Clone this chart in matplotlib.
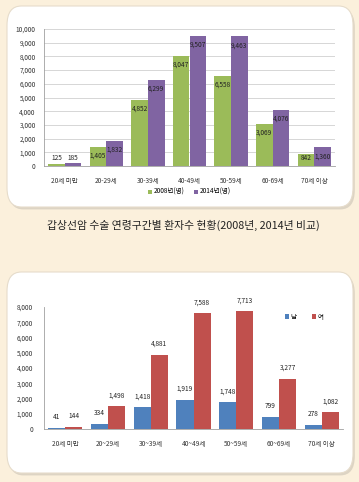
import numpy as np
import matplotlib
matplotlib.use('Agg')
import matplotlib.pyplot as plt
from matplotlib.patches import FancyBboxPatch

plt.rcParams['font.family'] = ['Noto Sans CJK KR', 'DejaVu Sans']

# 데이터
ages = ['20세 미만', '20-29세', '30-39세', '40-49세', '50-59세', '60-69세', '70세 이상']
y2008 = [125, 1405, 4852, 8047, 6558, 3069, 842]
y2014 = [185, 1832, 6299, 9507, 9463, 4076, 1360]
ages2 = ['20세 미만', '20~29세', '30~39세', '40~49세', '50~59세', '60~69세', '70세 이상']
male = [41, 334, 1418, 1919, 1748, 799, 278]
female = [144, 1498, 4881, 7588, 7713, 3277, 1082]
caption = '갑상선암 수술 연령구간별 환자수 현황(2008년, 2014년 비교)'

W, H = 359, 482
fig = plt.figure(figsize=(W / 100, H / 100), dpi=100)
fig.patch.set_facecolor('#fbf0dc')

def px_axes(x0, y0, x1, y1):
    # pixel box (top-left origin) -> figure axes
    return fig.add_axes([x0 / W, 1 - y1 / H, (x1 - x0) / W, (y1 - y0) / H])

def card(x0, y0, x1, y1):
    sh = FancyBboxPatch((x0 / W + 0.005, 1 - y1 / H - 0.005), (x1 - x0) / W, (y1 - y0) / H,
                        boxstyle='round,pad=0,rounding_size=0.04', transform=fig.transFigure,
                        facecolor='#ddd4c4', edgecolor='none', zorder=0)
    bx = FancyBboxPatch((x0 / W, 1 - y1 / H), (x1 - x0) / W, (y1 - y0) / H,
                        boxstyle='round,pad=0,rounding_size=0.04', transform=fig.transFigure,
                        facecolor='white', edgecolor='#e6dccb', linewidth=0.8, zorder=1)
    fig.patches.extend([sh, bx])

card(7, 6, 353, 207)
card(7, 272, 353, 473)

fs = 4.7
x = np.arange(len(ages))
w = 0.4

# 위 차트
ax1 = px_axes(44, 29, 335, 166)
ax1.set_zorder(3)
b1 = ax1.bar(x - w / 2, y2008, w, color='#9bbb59', label='2008년(명)', zorder=2)
b2 = ax1.bar(x + w / 2, y2014, w, color='#8064a2', label='2014년(명)', zorder=2)
for bars, vals in [(b1, y2008), (b2, y2014)]:
    for r, v in zip(bars, vals):
        ax1.text(r.get_x() + r.get_width() / 2, max(v - 650, 600), f'{v:,}',
                 ha='center', va='center', fontsize=fs, color='#222222', zorder=4)
ax1.set_xlim(-0.5, len(ages) - 0.5)
ax1.set_ylim(0, 10000)
ax1.set_yticks(range(0, 10001, 1000))
ax1.set_yticklabels([f'{v:,}' for v in range(0, 10001, 1000)])
ax1.set_xticks(x)
ax1.set_xticklabels(ages)
ax1.yaxis.grid(True, color='#d0d0d0', linewidth=0.6, zorder=0)
ax1.set_axisbelow(True)
ax1.set_facecolor('none')
for s in ['top', 'right']:
    ax1.spines[s].set_visible(False)
for s in ['left', 'bottom']:
    ax1.spines[s].set_color('#a0a0a0')
    ax1.spines[s].set_linewidth(0.6)
ax1.tick_params(axis='both', length=0, labelsize=fs, colors='#333333', pad=6)
ax1.tick_params(axis='x', pad=8)
ax1.legend(loc='center', bbox_to_anchor=(0.5, -0.19), ncol=2, frameon=False,
           fontsize=fs, handlelength=0.6, handleheight=0.6, columnspacing=1.5,
           handletextpad=0.3)

fig.text(183 / W, 1 - 225 / H, caption, ha='center', va='center', fontsize=7.8,
         color='#222222')

# 아래 차트
ax2 = px_axes(44, 307, 343, 429)
ax2.set_zorder(3)
c1 = ax2.bar(x - w / 2, male, w, color='#4f81bd', label='남', zorder=2)
c2 = ax2.bar(x + w / 2, female, w, color='#c0504d', label='여', zorder=2)
for bars, vals in [(c1, male), (c2, female)]:
    for r, v in zip(bars, vals):
        ax2.annotate(f'{v:,}', (r.get_x() + r.get_width() / 2, v), xytext=(0, 5),
                     textcoords='offset points', ha='center', va='bottom',
                     fontsize=fs, color='#222222')
ax2.set_xlim(-0.5, len(ages2) - 0.5)
ax2.set_ylim(0, 8000)
ax2.set_yticks(range(0, 8001, 1000))
ax2.set_yticklabels([f'{v:,}' for v in range(0, 8001, 1000)])
ax2.set_xticks(x)
ax2.set_xticklabels(ages2)
ax2.set_facecolor('none')
for s in ['top', 'right']:
    ax2.spines[s].set_visible(False)
for s in ['left', 'bottom']:
    ax2.spines[s].set_color('#a0a0a0')
    ax2.spines[s].set_linewidth(0.6)
ax2.tick_params(axis='both', length=0, labelsize=fs, colors='#333333', pad=8)
ax2.legend(loc='center', bbox_to_anchor=(0.87, 0.92), ncol=2, frameon=False,
           fontsize=fs, handlelength=0.6, handleheight=0.6, columnspacing=2.5,
           handletextpad=0.2)

fig.savefig('out.png', dpi=100, facecolor=fig.get_facecolor())
